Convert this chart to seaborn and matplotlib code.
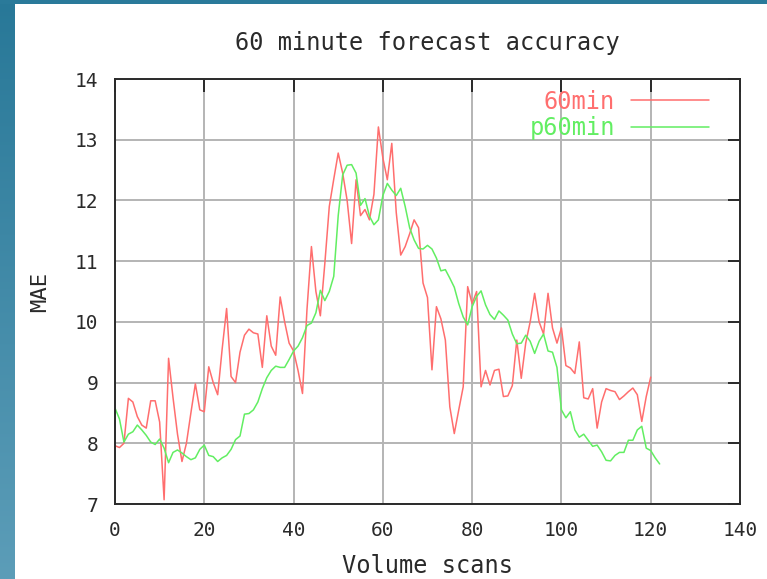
import numpy as np
import pandas as pd
import matplotlib
matplotlib.use("Agg")
import matplotlib.pyplot as plt
import seaborn as sns

# MAE per volume scan for the 60 minute forecast and its persistence counterpart
mae_60min = [
    7.96, 7.93, 8.00, 8.74, 8.68, 8.44, 8.30, 8.25, 8.70, 8.70,
    8.35, 7.07, 9.40, 8.75, 8.15, 7.70, 8.00, 8.50, 8.98, 8.55,
    8.52, 9.26, 9.00, 8.80, 9.55, 10.22, 9.10, 9.00, 9.50, 9.78,
    9.88, 9.82, 9.80, 9.25, 10.10, 9.60, 9.45, 10.41, 10.00, 9.65,
    9.52, 9.20, 8.82, 10.20, 11.24, 10.50, 10.10, 10.96, 11.90, 12.35,
    12.78, 12.45, 12.00, 11.29, 12.34, 11.75, 11.85, 11.68, 12.10, 13.21,
    12.70, 12.34, 12.94, 11.80, 11.10, 11.24, 11.45, 11.68, 11.55, 10.64,
    10.40, 9.21, 10.25, 10.05, 9.70, 8.60, 8.16, 8.55, 8.93, 10.58,
    10.30, 10.50, 8.93, 9.20, 8.96, 9.20, 9.22, 8.77, 8.78, 8.95,
    9.70, 9.07, 9.65, 10.00, 10.47, 10.00, 9.80, 10.47, 9.90, 9.65,
    9.90, 9.28, 9.24, 9.15, 9.67, 8.75, 8.73, 8.90, 8.25, 8.68,
    8.90, 8.87, 8.85, 8.72, 8.78, 8.85, 8.91, 8.80, 8.36, 8.77,
    9.09,
]
mae_p60min = [
    8.58, 8.40, 8.02, 8.15, 8.19, 8.30, 8.22, 8.13, 8.02, 7.98,
    8.07, 7.92, 7.68, 7.85, 7.89, 7.84, 7.78, 7.73, 7.76, 7.90,
    7.97, 7.80, 7.78, 7.70, 7.76, 7.80, 7.90, 8.06, 8.12, 8.48,
    8.49, 8.55, 8.68, 8.90, 9.08, 9.20, 9.27, 9.25, 9.25, 9.38,
    9.52, 9.60, 9.74, 9.94, 9.98, 10.15, 10.52, 10.35, 10.50, 10.75,
    11.75, 12.42, 12.58, 12.59, 12.45, 11.92, 12.03, 11.74, 11.60, 11.68,
    12.08, 12.28, 12.17, 12.08, 12.20, 11.90, 11.55, 11.35, 11.21, 11.20,
    11.26, 11.20, 11.05, 10.84, 10.86, 10.72, 10.57, 10.30, 10.08, 9.95,
    10.25, 10.42, 10.51, 10.28, 10.12, 10.04, 10.18, 10.11, 10.03, 9.80,
    9.64, 9.65, 9.78, 9.68, 9.48, 9.68, 9.80, 9.52, 9.50, 9.25,
    8.55, 8.42, 8.52, 8.22, 8.10, 8.15, 8.05, 7.95, 7.97, 7.86,
    7.72, 7.71, 7.80, 7.85, 7.85, 8.05, 8.05, 8.22, 8.28, 7.92,
    7.88, 7.76, 7.66,
]
scans_60min = list(range(len(mae_60min)))
scans_p60min = list(range(len(mae_p60min)))

x_ticks = [0, 20, 40, 60, 80, 100, 120, 140]
y_ticks = [7, 8, 9, 10, 11, 12, 13, 14]

RED = "#ff6e6e"
GREEN = "#62ee62"
INK = "#2a2a2a"

sns.set_theme(style="white")
plt.rcParams["font.family"] = ["DejaVu Sans Mono", "DejaVu Sans"]
plt.rcParams["text.color"] = INK

W, H = 767, 579
fig = plt.figure(figsize=(W / 100, H / 100), dpi=100)
fig.patch.set_facecolor("white")

# blue frame strips along the left and top edges
grad = np.linspace(0, 1, 256).reshape(-1, 1)
cmap = matplotlib.colors.LinearSegmentedColormap.from_list("edge", ["#287898", "#5c9db8"])
ax_left = fig.add_axes([0, 0, 15 / W, 1])
ax_left.imshow(grad, aspect="auto", cmap=cmap, origin="upper")
ax_left.axis("off")
ax_top = fig.add_axes([0, 1 - 4 / H, 1, 4 / H])
ax_top.set_facecolor("#2a7a9a")
ax_top.set_xticks([])
ax_top.set_yticks([])
for s in ax_top.spines.values():
    s.set_visible(False)

ax = fig.add_axes([115 / W, 75 / H, 625 / W, 425 / H])

df_a = pd.DataFrame({"scan": scans_60min, "mae": mae_60min})
df_b = pd.DataFrame({"scan": scans_p60min, "mae": mae_p60min})
sns.lineplot(data=df_a, x="scan", y="mae", color=RED, linewidth=1.1, label="60min", ax=ax)
sns.lineplot(data=df_b, x="scan", y="mae", color=GREEN, linewidth=1.1, label="p60min", ax=ax)

ax.set_xlim(0, 140)
ax.set_ylim(7, 14)
ax.set_xticks(x_ticks)
ax.set_yticks(y_ticks)
ax.set_xticklabels([str(v) for v in x_ticks])
ax.set_yticklabels([str(v) for v in y_ticks])
ax.grid(True, color="#b4b4b4", linewidth=1.4)
ax.set_axisbelow(True)
for s in ax.spines.values():
    s.set_color(INK)
    s.set_linewidth(1.4)
ax.tick_params(direction="in", length=9, width=1.4, color=INK,
               top=True, right=True, labelsize=14, labelcolor=INK)
ax.tick_params(axis="x", pad=12)
ax.tick_params(axis="y", pad=12)

ax.set_title("60 minute forecast accuracy", fontsize=17, pad=21, color=INK)
ax.set_xlabel("Volume scans", fontsize=17, labelpad=10, color=INK)
ax.set_ylabel("MAE", fontsize=16, labelpad=18, color=INK)

leg = ax.legend(loc="upper right", bbox_to_anchor=(0.985, 1.025), frameon=False,
                markerfirst=False, fontsize=17, handlelength=3.3,
                handletextpad=0.7, labelspacing=0.12)
for txt, col in zip(leg.get_texts(), [RED, GREEN]):
    txt.set_color(col)

fig.savefig("out.png", dpi=100)
